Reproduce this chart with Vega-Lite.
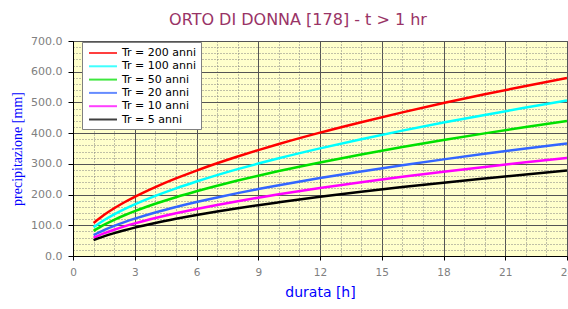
{
  "$schema": "https://vega.github.io/schema/vega-lite/v6.json",
  "width": 494,
  "height": 215,
  "autosize": {"type": "none"},
  "padding": {"left": 73, "top": 41, "right": 1, "bottom": 53},
  "background": "#FFFFFF",
  "title": {
    "text": "ORTO DI DONNA [178] - t > 1 hr",
    "font": "DejaVu Sans",
    "fontSize": 16,
    "fontWeight": "normal",
    "color": "#993366",
    "anchor": "middle",
    "dx": -22,
    "offset": 7
  },
  "config": {
    "view": {"fill": "#FFFFCC", "stroke": "#555555", "strokeWidth": 1}
  },
  "data": {
    "values": [
      {"t": 1, "Tr": "Tr = 200 anni", "h": 107.6},
      {"t": 1.5, "Tr": "Tr = 200 anni", "h": 133.4},
      {"t": 2, "Tr": "Tr = 200 anni", "h": 155.4},
      {"t": 2.5, "Tr": "Tr = 200 anni", "h": 174.9},
      {"t": 3, "Tr": "Tr = 200 anni", "h": 192.6},
      {"t": 4, "Tr": "Tr = 200 anni", "h": 224.3},
      {"t": 5, "Tr": "Tr = 200 anni", "h": 252.5},
      {"t": 6, "Tr": "Tr = 200 anni", "h": 278.1},
      {"t": 7, "Tr": "Tr = 200 anni", "h": 301.8},
      {"t": 8, "Tr": "Tr = 200 anni", "h": 323.9},
      {"t": 9, "Tr": "Tr = 200 anni", "h": 344.8},
      {"t": 10, "Tr": "Tr = 200 anni", "h": 364.6},
      {"t": 12, "Tr": "Tr = 200 anni", "h": 401.6},
      {"t": 14, "Tr": "Tr = 200 anni", "h": 435.7},
      {"t": 16, "Tr": "Tr = 200 anni", "h": 467.7},
      {"t": 18, "Tr": "Tr = 200 anni", "h": 497.9},
      {"t": 20, "Tr": "Tr = 200 anni", "h": 526.4},
      {"t": 22, "Tr": "Tr = 200 anni", "h": 553.7},
      {"t": 24, "Tr": "Tr = 200 anni", "h": 579.9},
      {"t": 1, "Tr": "Tr = 100 anni", "h": 93.9},
      {"t": 1.5, "Tr": "Tr = 100 anni", "h": 116.4},
      {"t": 2, "Tr": "Tr = 100 anni", "h": 135.6},
      {"t": 2.5, "Tr": "Tr = 100 anni", "h": 152.6},
      {"t": 3, "Tr": "Tr = 100 anni", "h": 168.1},
      {"t": 4, "Tr": "Tr = 100 anni", "h": 195.8},
      {"t": 5, "Tr": "Tr = 100 anni", "h": 220.4},
      {"t": 6, "Tr": "Tr = 100 anni", "h": 242.7},
      {"t": 7, "Tr": "Tr = 100 anni", "h": 263.4},
      {"t": 8, "Tr": "Tr = 100 anni", "h": 282.7},
      {"t": 9, "Tr": "Tr = 100 anni", "h": 300.9},
      {"t": 10, "Tr": "Tr = 100 anni", "h": 318.2},
      {"t": 12, "Tr": "Tr = 100 anni", "h": 350.4},
      {"t": 14, "Tr": "Tr = 100 anni", "h": 380.3},
      {"t": 16, "Tr": "Tr = 100 anni", "h": 408.2},
      {"t": 18, "Tr": "Tr = 100 anni", "h": 434.5},
      {"t": 20, "Tr": "Tr = 100 anni", "h": 459.4},
      {"t": 22, "Tr": "Tr = 100 anni", "h": 483.2},
      {"t": 24, "Tr": "Tr = 100 anni", "h": 506.0},
      {"t": 1, "Tr": "Tr = 50 anni", "h": 81.6},
      {"t": 1.5, "Tr": "Tr = 50 anni", "h": 101.2},
      {"t": 2, "Tr": "Tr = 50 anni", "h": 117.8},
      {"t": 2.5, "Tr": "Tr = 50 anni", "h": 132.6},
      {"t": 3, "Tr": "Tr = 50 anni", "h": 146.1},
      {"t": 4, "Tr": "Tr = 50 anni", "h": 170.1},
      {"t": 5, "Tr": "Tr = 50 anni", "h": 191.5},
      {"t": 6, "Tr": "Tr = 50 anni", "h": 210.9},
      {"t": 7, "Tr": "Tr = 50 anni", "h": 228.9},
      {"t": 8, "Tr": "Tr = 50 anni", "h": 245.6},
      {"t": 9, "Tr": "Tr = 50 anni", "h": 261.5},
      {"t": 10, "Tr": "Tr = 50 anni", "h": 276.5},
      {"t": 12, "Tr": "Tr = 50 anni", "h": 304.5},
      {"t": 14, "Tr": "Tr = 50 anni", "h": 330.5},
      {"t": 16, "Tr": "Tr = 50 anni", "h": 354.7},
      {"t": 18, "Tr": "Tr = 50 anni", "h": 377.6},
      {"t": 20, "Tr": "Tr = 50 anni", "h": 399.2},
      {"t": 22, "Tr": "Tr = 50 anni", "h": 419.9},
      {"t": 24, "Tr": "Tr = 50 anni", "h": 439.7},
      {"t": 1, "Tr": "Tr = 20 anni", "h": 68.0},
      {"t": 1.5, "Tr": "Tr = 20 anni", "h": 84.3},
      {"t": 2, "Tr": "Tr = 20 anni", "h": 98.2},
      {"t": 2.5, "Tr": "Tr = 20 anni", "h": 110.5},
      {"t": 3, "Tr": "Tr = 20 anni", "h": 121.7},
      {"t": 4, "Tr": "Tr = 20 anni", "h": 141.8},
      {"t": 5, "Tr": "Tr = 20 anni", "h": 159.6},
      {"t": 6, "Tr": "Tr = 20 anni", "h": 175.8},
      {"t": 7, "Tr": "Tr = 20 anni", "h": 190.7},
      {"t": 8, "Tr": "Tr = 20 anni", "h": 204.7},
      {"t": 9, "Tr": "Tr = 20 anni", "h": 217.9},
      {"t": 10, "Tr": "Tr = 20 anni", "h": 230.4},
      {"t": 12, "Tr": "Tr = 20 anni", "h": 253.8},
      {"t": 14, "Tr": "Tr = 20 anni", "h": 275.4},
      {"t": 16, "Tr": "Tr = 20 anni", "h": 295.6},
      {"t": 18, "Tr": "Tr = 20 anni", "h": 314.6},
      {"t": 20, "Tr": "Tr = 20 anni", "h": 332.7},
      {"t": 22, "Tr": "Tr = 20 anni", "h": 349.9},
      {"t": 24, "Tr": "Tr = 20 anni", "h": 366.4},
      {"t": 1, "Tr": "Tr = 10 anni", "h": 59.3},
      {"t": 1.5, "Tr": "Tr = 10 anni", "h": 73.5},
      {"t": 2, "Tr": "Tr = 10 anni", "h": 85.6},
      {"t": 2.5, "Tr": "Tr = 10 anni", "h": 96.4},
      {"t": 3, "Tr": "Tr = 10 anni", "h": 106.2},
      {"t": 4, "Tr": "Tr = 10 anni", "h": 123.6},
      {"t": 5, "Tr": "Tr = 10 anni", "h": 139.2},
      {"t": 6, "Tr": "Tr = 10 anni", "h": 153.3},
      {"t": 7, "Tr": "Tr = 10 anni", "h": 166.3},
      {"t": 8, "Tr": "Tr = 10 anni", "h": 178.5},
      {"t": 9, "Tr": "Tr = 10 anni", "h": 190.0},
      {"t": 10, "Tr": "Tr = 10 anni", "h": 200.9},
      {"t": 12, "Tr": "Tr = 10 anni", "h": 221.3},
      {"t": 14, "Tr": "Tr = 10 anni", "h": 240.1},
      {"t": 16, "Tr": "Tr = 10 anni", "h": 257.8},
      {"t": 18, "Tr": "Tr = 10 anni", "h": 274.4},
      {"t": 20, "Tr": "Tr = 10 anni", "h": 290.1},
      {"t": 22, "Tr": "Tr = 10 anni", "h": 305.2},
      {"t": 24, "Tr": "Tr = 10 anni", "h": 319.6},
      {"t": 1, "Tr": "Tr = 5 anni", "h": 51.6},
      {"t": 1.5, "Tr": "Tr = 5 anni", "h": 64.0},
      {"t": 2, "Tr": "Tr = 5 anni", "h": 74.5},
      {"t": 2.5, "Tr": "Tr = 5 anni", "h": 83.9},
      {"t": 3, "Tr": "Tr = 5 anni", "h": 92.4},
      {"t": 4, "Tr": "Tr = 5 anni", "h": 107.6},
      {"t": 5, "Tr": "Tr = 5 anni", "h": 121.1},
      {"t": 6, "Tr": "Tr = 5 anni", "h": 133.4},
      {"t": 7, "Tr": "Tr = 5 anni", "h": 144.7},
      {"t": 8, "Tr": "Tr = 5 anni", "h": 155.3},
      {"t": 9, "Tr": "Tr = 5 anni", "h": 165.4},
      {"t": 10, "Tr": "Tr = 5 anni", "h": 174.8},
      {"t": 12, "Tr": "Tr = 5 anni", "h": 192.6},
      {"t": 14, "Tr": "Tr = 5 anni", "h": 209.0},
      {"t": 16, "Tr": "Tr = 5 anni", "h": 224.3},
      {"t": 18, "Tr": "Tr = 5 anni", "h": 238.8},
      {"t": 20, "Tr": "Tr = 5 anni", "h": 252.4},
      {"t": 22, "Tr": "Tr = 5 anni", "h": 265.5},
      {"t": 24, "Tr": "Tr = 5 anni", "h": 278.1}
    ]
  },
  "mark": {"type": "line", "strokeWidth": 2.5, "interpolate": "monotone", "clip": true},
  "encoding": {
    "x": {
      "field": "t",
      "type": "quantitative",
      "scale": {"domain": [0, 24], "nice": false, "zero": false},
      "axis": {
        "title": "durata [h]",
        "titleFont": "DejaVu Sans",
        "titleFontSize": 14,
        "titleFontWeight": "normal",
        "titleColor": "#0000FF",
        "titlePadding": 8,
        "values": [0,1,2,3,4,5,6,7,8,9,10,11,12,13,14,15,16,17,18,19,20,21,22,23,24],
        "labelExpr": "datum.value % 3 === 0 ? datum.label : ''",
        "labelFont": "DejaVu Sans",
        "labelFontSize": 10.5,
        "labelColor": "#808080",
        "labelPadding": 7,
        "labelFlush": false,
        "labelOverlap": false,
        "domainColor": "#000000",
        "tickColor": "#000000",
        "tickSize": 4,
        "tickOpacity": {"condition": {"test": "datum.value % 3 === 0", "value": 1}, "value": 0},
        "grid": true,
        "gridColor": {"condition": {"test": "datum.value % 3 === 0", "value": "#555555"}, "value": "#808080"},
        "gridDash": {"condition": {"test": "datum.value % 3 === 0", "value": []}, "value": [1, 2]},
        "gridWidth": 1
      }
    },
    "y": {
      "field": "h",
      "type": "quantitative",
      "scale": {"domain": [0, 700], "nice": false},
      "axis": {
        "title": "precipitazione [mm]",
        "titleFont": "Liberation Sans Narrow",
        "titleFontSize": 14,
        "titleFontWeight": "normal",
        "titleColor": "#0000FF",
        "titlePadding": 6,
        "values": [0,20,40,60,80,100,120,140,160,180,200,220,240,260,280,300,320,340,360,380,400,420,440,460,480,500,520,540,560,580,600,620,640,660,680,700],
        "labelExpr": "datum.value % 100 === 0 ? format(datum.value, '.1f') : ''",
        "labelFont": "DejaVu Sans",
        "labelFontSize": 11,
        "labelColor": "#808080",
        "labelPadding": 6,
        "labelFlush": false,
        "labelOverlap": false,
        "domainColor": "#000000",
        "tickColor": "#000000",
        "tickSize": 5,
        "tickOpacity": {"condition": {"test": "datum.value % 100 === 0", "value": 1}, "value": 0},
        "grid": true,
        "gridColor": {"condition": {"test": "datum.value % 100 === 0", "value": "#555555"}, "value": "#808080"},
        "gridDash": {"condition": {"test": "datum.value % 100 === 0", "value": []}, "value": [1, 2]},
        "gridWidth": 1
      }
    },
    "color": {
      "field": "Tr",
      "type": "nominal",
      "sort": ["Tr = 200 anni", "Tr = 100 anni", "Tr = 50 anni", "Tr = 20 anni", "Tr = 10 anni", "Tr = 5 anni"],
      "scale": {
        "domain": ["Tr = 200 anni", "Tr = 100 anni", "Tr = 50 anni", "Tr = 20 anni", "Tr = 10 anni", "Tr = 5 anni"],
        "range": ["#FF0000", "#00FFFF", "#00E000", "#3366FF", "#FF00FF", "#000000"]
      },
      "legend": {
        "title": null,
        "orient": "none",
        "legendX": 9,
        "legendY": 1,
        "fillColor": "#FFFFFF",
        "strokeColor": "#808080",
        "padding": 4,
        "symbolType": "M-2.33,0H2.33",
        "symbolSize": 144,
        "symbolOffset": 10,
        "symbolStrokeWidth": 2,
        "symbolOpacity": 0.75,
        "labelFont": "DejaVu Sans",
        "labelFontSize": 11,
        "labelColor": "#000000",
        "labelOffset": 12,
        "rowPadding": 1.3
      }
    }
  }
}
